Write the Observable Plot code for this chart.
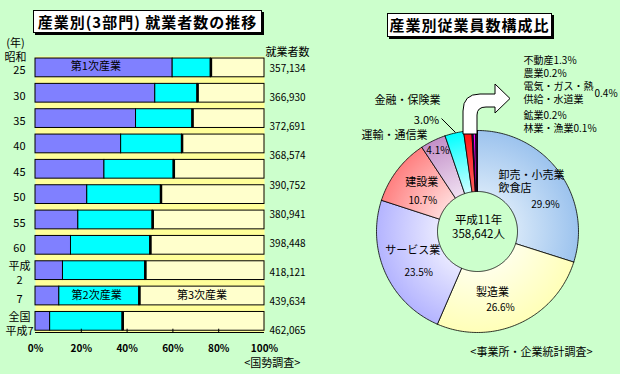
<!DOCTYPE html>
<html><head><meta charset="utf-8">
<script src="https://cdn.jsdelivr.net/npm/d3@7"></script>
<script src="https://cdn.jsdelivr.net/npm/@observablehq/plot@0.6"></script>
<style>
html,body{margin:0;padding:0;}
body{width:620px;height:374px;background:#ccffcc;position:relative;overflow:hidden;font-family:"Noto Sans CJK JP",sans-serif;color:#000;}
.title{position:absolute;background:#fff;border:1px solid #000;box-shadow:2px 2px 0 #000;font-weight:bold;text-align:center;white-space:nowrap;font-size:15px;letter-spacing:1px;}
#left{position:absolute;left:0;top:0;}
#right{position:absolute;left:310px;top:0;}
#arrow{position:absolute;left:0;top:0;pointer-events:none;}
</style></head><body>
<div id="left"></div><div id="right"></div>
<div class="title" style="left:33px;top:10px;width:227px;height:21px;line-height:21px;">産業別(3部門) 就業者数の推移</div>
<div class="title" style="left:387px;top:13px;width:163px;height:22px;line-height:22px;">産業別従業員数構成比</div>
<svg id="arrow" width="620" height="374"><path d="M463,134 L463,111 Q463,94 480,94 L495,94 L495,84 L510,98.5 L495,113 L495,107 L486,107 Q477,107 477,115 L477,134 Z" fill="#fff" stroke="#000" stroke-width="1"/></svg>
<script>
// ===== Left chart data =====
const periods = ["25","30","35","40","45","50","55","60","平成\n2","7","全国\n平成7"];
const primaryPct   = [59.9,52.3,43.9,37.4,30.1,22.6,18.7,15.5,12.0,10.4,6.4];
const secondaryPct = [16.7,18.5,24.7,26.6,30.3,32.2,32.5,34.7,36.0,35.0,31.7];
const tertiaryPct  = [23.4,29.2,31.4,36.0,39.6,45.2,48.8,49.8,52.0,54.6,61.9];
const workers = [357134,366930,372691,368574,390752,380941,398448,418121,439634,462065];
const sectorNames = ["第1次産業","第2次産業","第3次産業"];
const xTicks = [0,20,40,60,80,100];

// ===== Right chart data =====
const industries = ["卸売・小売業,飲食店","製造業","サービス業","建設業","運輸・通信業","金融・保険業","不動産","農業","電気・ガス・熱供給・水道業","鉱業","林業・漁業"];
const shares = [29.9,26.6,23.5,10.7,4.1,3.0,1.3,0.2,0.4,0.2,0.1];
const surveyYear = "平成11年";
const totalEmployees = 358642;

const FONT = '"Noto Sans CJK JP", sans-serif';
const fmt = d3.format(",");

// ---------- Left chart ----------
const segs = [];
periods.forEach((p, i) => {
  const vals = [primaryPct[i], secondaryPct[i], tertiaryPct[i]];
  let a = 0;
  vals.forEach((v, k) => { segs.push({i, k, x1: a, x2: a + v}); a += v; });
});
const H = 0.37;
const sectorFill = ["#8080ff", "#00ffff", "#ffffcc"];
const yBottom = 10.44;
const numStep = 1.148;
const LH = 0.57; // line spacing in band units for two-line period labels

// split period labels into single lines
const periodLines = [];
periods.forEach((p, i) => {
  const parts = p.split("\n");
  parts.forEach((t, k) => periodLines.push({t, y: i + (k - (parts.length - 1) / 2) * LH}));
});

const left = Plot.plot({
  width: 310, height: 374,
  marginLeft: 35, marginRight: 46, marginTop: 56, marginBottom: 42,
  style: {background: "transparent", fontFamily: FONT, fontSize: "11px", color: "#000", overflow: "visible"},
  x: {domain: [0, 100], label: null},
  y: {domain: [-0.45, yBottom], reverse: true, axis: null},
  marks: [
    Plot.frame({fill: "#ffff99", stroke: null}),
    ...[0, 1, 2].map(k => Plot.rect(segs.filter(d => d.k === k), {
      x1: "x1", x2: "x2", y1: d => d.i - H, y2: d => d.i + H,
      fill: sectorFill[k], stroke: "#000", strokeWidth: 1
    })),
    Plot.ruleX(segs.filter(d => d.k === 1), {x: "x2", y1: d => d.i - H, y2: d => d.i + H, stroke: "#000", strokeWidth: 2.5}),
    Plot.ruleY([yBottom], {stroke: "#000"}),
    Plot.ruleX(xTicks.slice(1, -1), {y1: yBottom, y2: yBottom - 0.13, stroke: "#000"}),
    Plot.axisX({ticks: xTicks, tickSize: 0, tickPadding: 12, tickFormat: d => d + "%", fontSize: 10, fontWeight: "bold", label: null}),
    Plot.text(periodLines, {x: () => -7, y: "y", text: "t", dy: 3, fontSize: 11}),
    Plot.text(["(年)", "昭和"], {x: () => -8.7, y: (d, i) => i === 0 ? -0.96 : -0.41, text: d => d, fontSize: 11}),
    Plot.text(["就業者数"], {x: () => 100.4, y: () => -0.61, text: d => d, textAnchor: "start", fontSize: 11}),
    Plot.text(workers, {x: () => 102.2, y: (d, i) => 0.04 + i * numStep, text: d => fmt(d), textAnchor: "start", fontSize: 10}),
    Plot.text([
      {t: sectorNames[0], x: primaryPct[0] / 2 - 3.6, i: 0},
      {t: sectorNames[1], x: primaryPct[9] + secondaryPct[9] / 2 - 1.2, i: 9},
      {t: sectorNames[2], x: primaryPct[9] + secondaryPct[9] + tertiaryPct[9] / 2, i: 9}
    ], {x: "x", y: "i", text: "t", fontSize: 11, dy: -1}),
    Plot.text(["<国勢調査>"], {x: () => 115.7, y: () => 11.66, text: d => d, textAnchor: "end", fontSize: 11})
  ]
});
document.getElementById("left").append(left);

// ---------- Right chart (donut) ----------
const R = 101, R0 = 40;
const CX = 477, CY = 231; // page position of donut centre
const P = (px, py) => ({x: px - CX, y: CY - py});
const grads = [
  ["#9cc3ee", "#d4e6f8"], ["#ffffb8", "#ffffe8"], ["#b4b4ff", "#e8e8ff"],
  ["#ff8080", "#ffd8d8"], ["#c38fc8", "#efdff1"], ["#00ffff", "#ccffff"],
  ["#ff1010", "#ff6060"], ["#202080", "#202080"], ["#ff00ff", "#ff00ff"],
  ["#800080", "#800080"], ["#4040c0", "#4040c0"]
];
const slices = [];
let acc = 0;
shares.forEach((v, j) => {
  const a0 = acc / 100 * 2 * Math.PI; acc += v;
  const a1 = acc / 100 * 2 * Math.PI;
  const n = Math.max(2, Math.ceil((a1 - a0) / (Math.PI / 180)) + 1);
  const pts = [];
  for (let s = 0; s < n; s++) { const a = a0 + (a1 - a0) * s / (n - 1); pts.push({x: R * Math.sin(a), y: R * Math.cos(a)}); }
  for (let s = n - 1; s >= 0; s--) { const a = a0 + (a1 - a0) * s / (n - 1); pts.push({x: R0 * Math.sin(a), y: R0 * Math.cos(a)}); }
  pts.push(pts[0]);
  const mid = (a0 + a1) / 2;
  slices.push({j, pts, mid, v});
});
const cen = (j, r) => ({x: r * Math.sin(slices[j].mid), y: r * Math.cos(slices[j].mid)});
const pct = v => v.toFixed(1) + "%";

const gradMark = (index, scales) => {
  const cx = scales.x(0), cy = scales.y(0), r = scales.x(R) - scales.x(0);
  const defs = d3.create("svg:defs");
  grads.forEach(([outer, inner], j) => {
    const g = defs.append("radialGradient").attr("id", "g" + j).attr("gradientUnits", "userSpaceOnUse")
      .attr("cx", cx).attr("cy", cy).attr("r", r);
    g.append("stop").attr("offset", R0 / R).attr("stop-color", inner);
    g.append("stop").attr("offset", 1).attr("stop-color", outer);
  });
  return defs.node();
};

// labels inside slices: centroid + nudge (screen px; y axis points up)
const nudge = (c, dx, dy) => ({x: c.x + dx, y: c.y - dy});
const names = [], pcts = [], startNames = [];
{
  const c0 = cen(0, 70);
  startNames.push({...nudge(c0, -35.5, -14.5), t: "卸売・小売業"});
  startNames.push({...nudge(c0, -35.5, -1.5), t: "飲食店"});
  pcts.push({...nudge(c0, 11.5, 15), t: pct(shares[0])});
  const c1 = cen(1, 70);
  names.push({...nudge(c1, -14, -3), t: industries[1]});
  pcts.push({...nudge(c1, -6, 13), t: pct(shares[1])});
  const c2 = cen(2, 70);
  names.push({...nudge(c2, -1, -10), t: industries[2]});
  pcts.push({...nudge(c2, 5, 12), t: pct(shares[2])});
  const c3 = cen(3, 70);
  names.push({...nudge(c3, 0, -7), t: industries[3]});
  pcts.push({...nudge(c3, 1, 12), t: pct(shares[3])});
  pcts.push({...cen(4, 90), t: pct(shares[4])});
}
const centreLines = [
  {...P(478, 220), t: surveyYear},
  {...P(478, 234), t: fmt(totalEmployees) + "人"}
];
const outside = [
  {...P(394, 135), t: industries[4]},
  {...P(407, 100), t: industries[5]},
  {...P(426, 120), t: pct(shares[5])}
];
const listItems = [
  {...P(523, 60), t: industries[6] + pct(shares[6])},
  {...P(523, 73), t: industries[7] + pct(shares[7])},
  {...P(523, 86), t: "電気・ガス・熱"},
  {...P(523, 99), t: "供給・水道業"},
  {...P(523, 115), t: industries[9] + pct(shares[9])},
  {...P(523, 128), t: industries[10] + pct(shares[10])}
];
const lead = [{a: P(441, 118), b: P(455, 132)}];

const right = Plot.plot({
  width: 310, height: 374, margin: 0,
  style: {background: "transparent", fontFamily: FONT, fontSize: "11px", color: "#000", overflow: "visible"},
  x: {domain: [-(CX - 310), 620 - CX], axis: null},
  y: {domain: [-(374 - CY), CY], axis: null},
  marks: [
    gradMark,
    ...slices.map(s => Plot.line(s.pts, {x: "x", y: "y", fill: `url(#g${s.j})`, stroke: "#000", strokeWidth: 0.8, curve: "linear"})),
    Plot.text(names, {x: "x", y: "y", text: "t", fontSize: 11}),
    Plot.text(pcts, {x: "x", y: "y", text: "t", fontSize: 10}),
    Plot.text(startNames, {x: "x", y: "y", text: "t", textAnchor: "start", fontSize: 11}),
    Plot.text(centreLines, {x: "x", y: "y", text: "t", fontSize: 11.5}),
    Plot.text(outside, {x: "x", y: "y", text: "t", fontSize: 11}),
    Plot.text(listItems, {x: "x", y: "y", text: "t", textAnchor: "start", fontSize: 10}),
    Plot.text([pct(shares[8])], {x: () => 594 - CX, y: () => CY - 93, text: d => d, textAnchor: "start", fontSize: 10}),
    Plot.link(lead, {x1: d => d.a.x, y1: d => d.a.y, x2: d => d.b.x, y2: d => d.b.y, stroke: "#000", strokeWidth: 1}),
    Plot.text(["<事業所・企業統計調査>"], {x: () => 592 - CX, y: () => CY - 352, text: d => d, textAnchor: "end", fontSize: 11})
  ]
});
document.getElementById("right").append(right);
</script>
</body></html>
